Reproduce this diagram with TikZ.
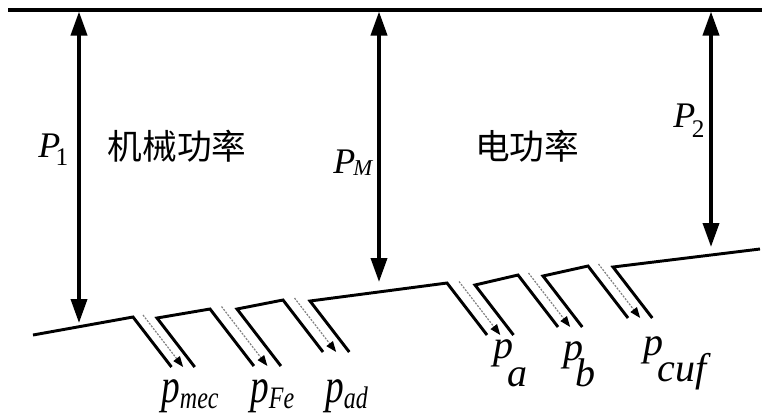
\documentclass[tikz,border=0pt]{standalone}
\usepackage{graphicx}
\usepackage{fontspec}
\setmainfont{Liberation Serif}
\newfontfamily\cjk{Noto Sans CJK SC}
\usetikzlibrary{arrows.meta,calc}
\begin{document}
\begin{tikzpicture}[x=0.75pt,y=-0.75pt,
  topline/.style={line width=3pt},
  powerline/.style={line width=2.2pt, line join=miter},
  bigarrow/.style={line width=2.8pt, {Triangle[length=18pt,width=12pt]}-{Triangle[length=18pt,width=12pt]}},
  lossarrow/.style={gray, line width=0.9pt, dash pattern=on 1.5pt off 1pt, -{Triangle[length=8pt,width=6pt,black]}},
  lbl/.style={inner sep=0pt, anchor=base west},
  cjklbl/.style={inner sep=0pt, font=\cjk\fontsize{26}{26}\selectfont},
]
\useasboundingbox (0,0) rectangle (762,419);
% top line
\coordinate (tl) at (8,9.5);
\coordinate (tr) at (762,9.5);
\draw[topline] (tl) -- (tr);
% bottom line ends
\coordinate (s0) at (33,335);
\coordinate (e) at (760,249);
% notches
\foreach \k/\ox/\oy/\ix/\iy/\by in {1/133/317/157/318/367, 2/210/309/237/309/366, 3/283/300/310/301/352, 4/447/283/475/285/335, 5/518/275/543/276/327, 6/588/266/613/267/318}{
  \coordinate (o\k) at (\ox,\oy);
  \coordinate (i\k) at (\ix,\iy);
  \coordinate (ob\k) at ({\ox+0.77*(\by-\oy)},\by);
  \coordinate (ib\k) at ({\ix+0.77*(\by-\iy)},\by);
}
\draw[powerline] (s0) -- (o1) -- (ob1)
  (ib1) -- (i1) -- (o2) -- (ob2)
  (ib2) -- (i2) -- (o3) -- (ob3)
  (ib3) -- (i3) -- (o4) -- (ob4)
  (ib4) -- (i4) -- (o5) -- (ob5)
  (ib5) -- (i5) -- (o6) -- (ob6)
  (ib6) -- (i6) -- (e);
\foreach \k in {1,...,6}{
  \draw[lossarrow] ($(o\k)!0.5!(i\k)+(-2,-2.5)$) -- ($(ob\k)!0.5!(ib\k)$);
}
% vertical arrows
\coordinate (t1) at (79,11.5);  \coordinate (b1) at (79,323);
\coordinate (t2) at (379,11.5); \coordinate (b2) at (379,282);
\coordinate (t3) at (711,11.5); \coordinate (b3) at (711,247);
\draw[bigarrow] (t1) -- (b1);
\draw[bigarrow] (t2) -- (b2);
\draw[bigarrow] (t3) -- (b3);
% labels
\node[lbl] (P1) at (38,157) {\fontsize{27}{27}\selectfont\itshape P\kern-3.5pt\raisebox{-6pt}{\fontsize{19}{19}\selectfont\upshape 1}};
\node[lbl] (PM) at (333,173) {\fontsize{27}{27}\selectfont\itshape P\kern-1.5pt\raisebox{-1.5pt}{\fontsize{17}{17}\selectfont M}};
\node[lbl] (P2) at (673,127) {\fontsize{27}{27}\selectfont\itshape P\kern-2.5pt\raisebox{-7.5pt}{\fontsize{19}{19}\selectfont\upshape 2}};
\node[cjklbl] (mech) at (177,146) {机械功率};
\node[cjklbl] (elec) at (527,146) {电功率};
\node[lbl] (pmec) at (161,402) {\scalebox{1}[1.3]{\fontsize{28}{28}\selectfont\itshape p\raisebox{-4pt}{\fontsize{18}{18}\selectfont mec}}};
\node[lbl] (pFe) at (250,402) {\scalebox{1}[1.3]{\fontsize{28}{28}\selectfont\itshape p\raisebox{-4pt}{\fontsize{18}{18}\selectfont Fe}}};
\node[lbl] (pad) at (325,402) {\scalebox{1}[1.3]{\fontsize{28}{28}\selectfont\itshape p\raisebox{-4pt}{\fontsize{18}{18}\selectfont ad}}};
\node[lbl] (pa) at (493,358) {\fontsize{30}{30}\selectfont\itshape p\kern-4.5pt\raisebox{-21pt}{a}};
\node[lbl] (pb) at (563,360) {\fontsize{30}{30}\selectfont\itshape p\kern-5.5pt\raisebox{-19.5pt}{b}};
\node[lbl] (pcuf) at (643,355) {\fontsize{30}{30}\selectfont\itshape p\kern-4.5pt\raisebox{-19.5pt}{cuf}};
\end{tikzpicture}
\end{document}
